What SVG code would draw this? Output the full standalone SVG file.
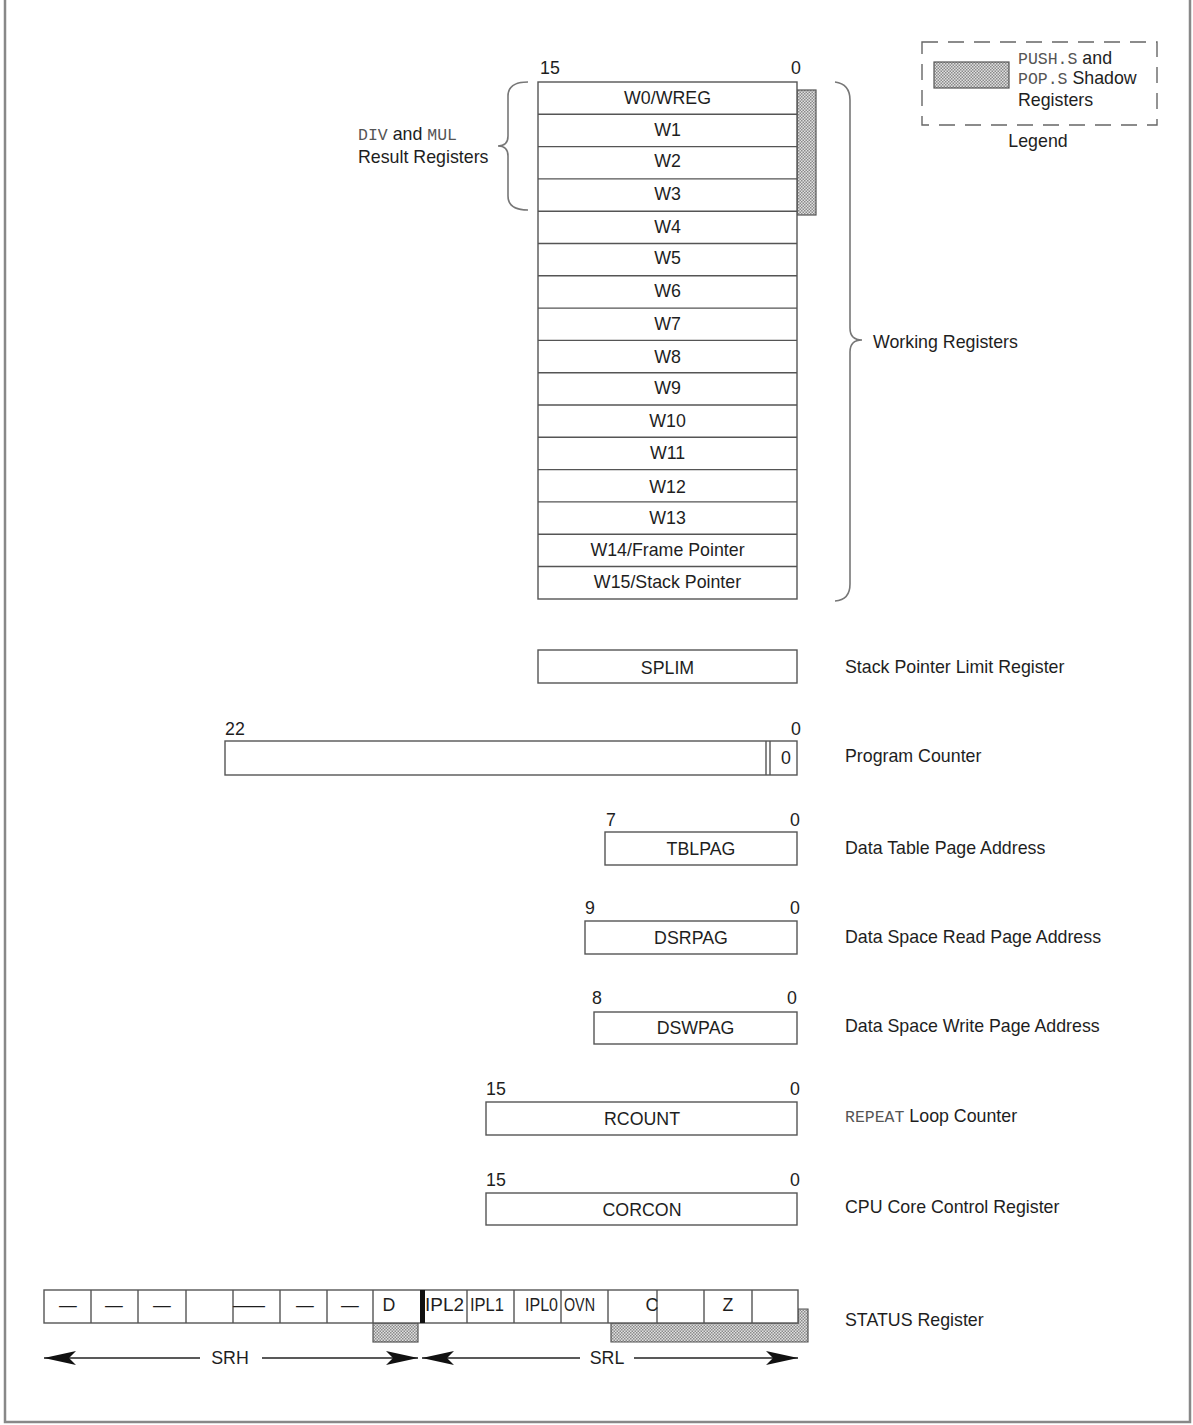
<svg xmlns="http://www.w3.org/2000/svg" width="1193" height="1425" viewBox="0 0 1193 1425">
<defs>
<pattern id="shade" width="3" height="3" patternUnits="userSpaceOnUse">
<rect width="3" height="3" fill="#e0e0e0"/>
<rect width="1.5" height="1.5" fill="#8a8a8a"/>
<rect x="1.5" y="1.5" width="1.5" height="1.5" fill="#8a8a8a"/>
</pattern>
<marker id="ah" viewBox="0 0 32 14" refX="32" refY="7" markerWidth="32" markerHeight="14" markerUnits="userSpaceOnUse" orient="auto-start-reverse">
<path d="M0,0 L32,7 L0,14 L7,7 Z" fill="#111"/>
</marker>
<style>
.t{font-family:"Liberation Sans",Arial,sans-serif;font-size:17.8px;fill:#1e1e1e}
.c{text-anchor:middle}
.m{font-family:"Liberation Mono","Courier New",monospace;font-size:16.5px;fill:#555}
.box{fill:#fff;stroke:#555;stroke-width:1.4}
.ln{stroke:#555;stroke-width:1.4;fill:none}
.sh{fill:url(#shade);stroke:#555;stroke-width:1.2}
.br{fill:none;stroke:#777;stroke-width:1.6}
.ar{stroke:#222;stroke-width:1.5;fill:none}
</style>
</defs>
<rect width="1193" height="1425" fill="#fff"/>
<path d="M5,0 V1422 H1190 V0" fill="none" stroke="#888" stroke-width="2.5"/>

<g id="legend">
<rect x="922" y="42" width="235" height="83" fill="none" stroke="#666" stroke-width="1.4" stroke-dasharray="16,10"/>
<rect x="934" y="62" width="75" height="26" class="sh" stroke-width="1.6"/>
<text class="t" x="1018" y="64"><tspan class="m">PUSH.S</tspan> and</text>
<text class="t" x="1018" y="84"><tspan class="m">POP.S</tspan> Shadow</text>
<text class="t" x="1018" y="106">Registers</text>
<text class="t c" x="1038" y="147">Legend</text>
</g>

<g id="working-registers">
<text class="t" x="540" y="74">15</text>
<text class="t c" x="796" y="74">0</text>
<rect x="797" y="90" width="19" height="125" class="sh"/>
<rect x="538" y="82" width="259" height="517" class="box"/>
<path class="ln" d="M538,114.3H797M538,146.6H797M538,178.9H797M538,211.2H797M538,243.5H797M538,275.8H797M538,308.1H797M538,340.4H797M538,372.7H797M538,405H797M538,437.3H797M538,469.6H797M538,501.9H797M538,534.2H797M538,566.5H797"/>
<text class="t c" x="667.5" y="104">W0/WREG</text>
<text class="t c" x="667.5" y="136">W1</text>
<text class="t c" x="667.5" y="167">W2</text>
<text class="t c" x="667.5" y="200">W3</text>
<text class="t c" x="667.5" y="233">W4</text>
<text class="t c" x="667.5" y="264">W5</text>
<text class="t c" x="667.5" y="297">W6</text>
<text class="t c" x="667.5" y="330">W7</text>
<text class="t c" x="667.5" y="363">W8</text>
<text class="t c" x="667.5" y="394">W9</text>
<text class="t c" x="667.5" y="427">W10</text>
<text class="t c" x="667.5" y="459">W11</text>
<text class="t c" x="667.5" y="493">W12</text>
<text class="t c" x="667.5" y="524">W13</text>
<text class="t c" x="667.5" y="556">W14/Frame Pointer</text>
<text class="t c" x="667.5" y="588">W15/Stack Pointer</text>
<text class="t" x="358" y="140"><tspan class="m">DIV</tspan> and <tspan class="m">MUL</tspan></text>
<text class="t" x="358" y="163">Result Registers</text>
<text class="t" x="873" y="348">Working Registers</text>
</g>

<g id="splim">
<rect x="538" y="650" width="259" height="33" class="box"/>
<text class="t c" x="667.5" y="674">SPLIM</text>
<text class="t" x="845" y="673">Stack Pointer Limit Register</text>
</g>

<g id="pc">
<text class="t" x="225" y="735">22</text>
<text class="t c" x="796" y="735">0</text>
<rect x="225" y="741" width="572" height="34" class="box"/>
<path class="ln" d="M766,741V775M770,741V775"/>
<text class="t c" x="786" y="764">0</text>
<text class="t" x="845" y="762">Program Counter</text>
</g>

<g id="tblpag">
<text class="t" x="606" y="826">7</text>
<text class="t c" x="795" y="826">0</text>
<rect x="605" y="832" width="192" height="33" class="box"/>
<text class="t c" x="701" y="855">TBLPAG</text>
<text class="t" x="845" y="854">Data Table Page Address</text>
</g>

<g id="dsrpag">
<text class="t" x="585" y="914">9</text>
<text class="t c" x="795" y="914">0</text>
<rect x="585" y="921" width="212" height="33" class="box"/>
<text class="t c" x="691" y="944">DSRPAG</text>
<text class="t" x="845" y="943">Data Space Read Page Address</text>
</g>

<g id="dswpag">
<text class="t" x="592" y="1004">8</text>
<text class="t c" x="792" y="1004">0</text>
<rect x="594" y="1012" width="203" height="32" class="box"/>
<text class="t c" x="695.5" y="1034">DSWPAG</text>
<text class="t" x="845" y="1032">Data Space Write Page Address</text>
</g>

<g id="rcount">
<text class="t" x="486" y="1095">15</text>
<text class="t c" x="795" y="1095">0</text>
<rect x="486" y="1102" width="311" height="33" class="box"/>
<text class="t c" x="642" y="1125">RCOUNT</text>
<text class="t" x="845" y="1122"><tspan class="m">REPEAT</tspan> Loop Counter</text>
</g>

<g id="corcon">
<text class="t" x="486" y="1186">15</text>
<text class="t c" x="795" y="1186">0</text>
<rect x="486" y="1193" width="311" height="32" class="box"/>
<text class="t c" x="642" y="1216">CORCON</text>
<text class="t" x="845" y="1213">CPU Core Control Register</text>
</g>

<g id="status">
<rect x="373" y="1323" width="45" height="19" class="sh"/>
<path class="sh" d="M611,1323V1342H808V1309H798V1323Z"/>
<rect x="44" y="1290" width="754" height="33" class="box"/>
<path class="ln" d="M91,1290V1323M138,1290V1323M186,1290V1323M233,1290V1323M280,1290V1323M327,1290V1323M373,1290V1323M467,1290V1323M514,1290V1323M561,1290V1323M608,1290V1323M657,1290V1323M704,1290V1323M752,1290V1323"/>
<rect x="420" y="1290" width="5" height="33" fill="#111"/>
<text class="t c" x="68" y="1311">—</text>
<text class="t c" x="114" y="1311">—</text>
<text class="t c" x="162" y="1311">—</text>
<text class="t" x="233" y="1311" textLength="32" lengthAdjust="spacingAndGlyphs">—</text>
<text class="t c" x="305" y="1311">—</text>
<text class="t c" x="350" y="1311">—</text>
<text class="t c" x="389" y="1311">D</text>
<text class="t" x="425" y="1311" textLength="39" lengthAdjust="spacingAndGlyphs">IPL2</text>
<text class="t" x="470" y="1311" textLength="34" lengthAdjust="spacingAndGlyphs">IPL1</text>
<text class="t" x="525" y="1311" textLength="33" lengthAdjust="spacingAndGlyphs">IPL0</text>
<text class="t" x="564" y="1311" textLength="31" lengthAdjust="spacingAndGlyphs">OVN</text>
<text class="t c" x="652" y="1311">C</text>
<text class="t c" x="728" y="1311">Z</text>
<text class="t" x="845" y="1326">STATUS Register</text>
<text class="t c" x="230" y="1364">SRH</text>
<text class="t c" x="607" y="1364">SRL</text>
</g>

<g id="connectors">
<path class="br" d="M528,82 Q508,82 508,96 V136 Q508,146 498,146 Q508,146 508,156 V196 Q508,210 528,210"/>
<path class="br" d="M835,82 Q850,84 850,100 V328 Q850,340 862,340 Q850,340 850,352 V584 Q850,600 835,601"/>
<path class="ar" d="M44,1358 H200" marker-start="url(#ah)"/>
<path class="ar" d="M262,1358 H418" marker-end="url(#ah)"/>
<path class="ar" d="M422,1358 H580" marker-start="url(#ah)"/>
<path class="ar" d="M634,1358 H798" marker-end="url(#ah)"/>
</g>
</svg>
